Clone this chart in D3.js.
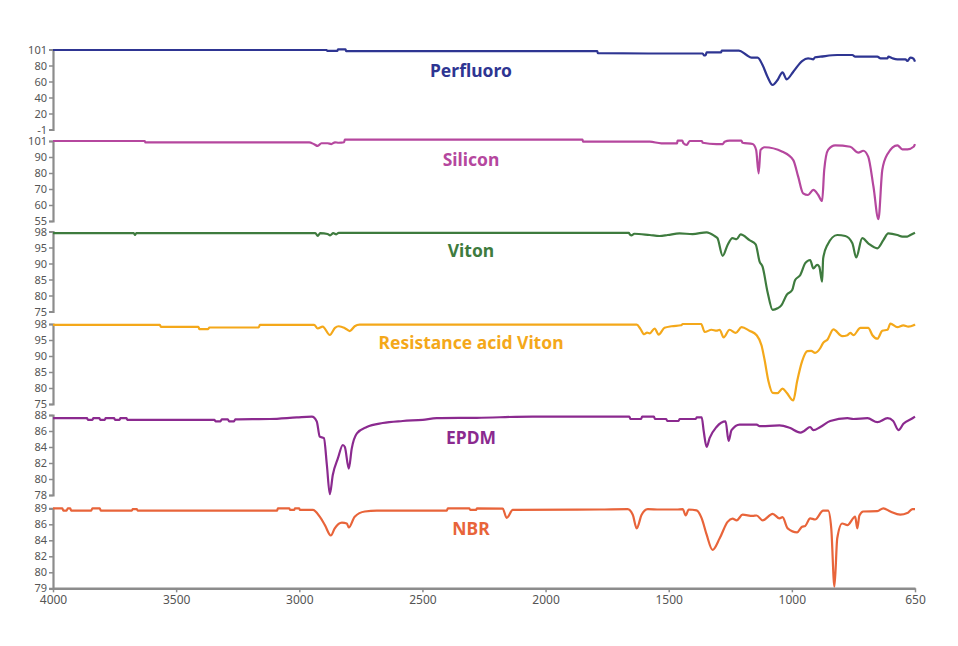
<!DOCTYPE html>
<html><head><meta charset="utf-8">
<script src="https://cdn.jsdelivr.net/npm/d3@7/dist/d3.min.js"></script>
<style>
body{margin:0;background:#fff;}
text{font-family:"Noto Sans","Open Sans",sans-serif;}
</style>
</head><body>
<svg id="chart" width="958" height="646"></svg>
<script>
// ---------- DATA ----------
const xTicks = [4000, 3500, 3000, 2500, 2000, 1500, 1000, 650];
const seriesNames = ["Perfluoro", "Silicon", "Viton", "Resistance acid Viton", "EPDM", "NBR"];
const seriesColors = ["#2e3592", "#b5479e", "#3e7b3e", "#f4a81a", "#8b2a8f", "#e8643a"];
const yDomains = [[0, 100], [50, 100], [75, 100], [75, 100], [78, 88], [78, 88]];
const yTickLabels = [
  ["-1", "20", "40", "60", "80", "101"],
  ["55", "60", "70", "80", "90", "101"],
  ["75", "80", "85", "90", "95", "98"],
  ["75", "80", "85", "90", "95", "98"],
  ["78", "80", "82", "84", "86", "88"],
  ["79", "80", "82", "84", "86", "89"]
];

const perfluoro = [[4000,99.4],[2889,99.4],[2887,98.3],[2845,98.3],[2843,100.2],[2812,100.2],[2810,98],[1790,98],[1788,95.5],[1577,95],[1362,95],[1356,92.5],[1350,92.8],[1346,96.5],[1287,96.5],[1285,98.5],[1215,98.5],[1184,93.1],[1164,89.75],[1139,89.75],[1119,80.6],[1099,66],[1078,55.6],[1058,61.9],[1038,71.5],[1021,62.75],[996,72.25],[971,85.6],[954,89],[939,87.75],[934,90.25],[919,91],[871,93.1],[828,93.1],[820,91],[757,91],[748,89],[728,89],[726,91],[714,89],[700,87.75],[677,87.75],[672,85.6],[663,89.75],[654,88.5],[650,84.75]];

const silicon = [[4000,100],[3627,100],[3625,99.1],[2960,99.1],[2940,98],[2925,96.9],[2910,98.6],[2885,98.6],[2870,98.1],[2855,99.2],[2840,98.9],[2818,99.2],[2815,100.9],[1850,100.9],[1848,99.6],[1577,99.56],[1530,98.56],[1466,98.56],[1464,100.2],[1445,100.2],[1440,98.56],[1427,97.5],[1415,100],[1365,100],[1362,98.9],[1306,98.1],[1280,98.1],[1273,99.56],[1253,100.2],[1205,100.2],[1200,98.9],[1159,98.1],[1145,94.4],[1135,79.8],[1127,94.4],[1111,96.1],[1038,93.3],[996,88.1],[982,77.7],[968,67.3],[954,66.25],[939,69.4],[925,66.25],[914,62.5],[908,81.9],[897,94.4],[877,97.3],[834,96.4],[811,92.7],[797,93.9],[783,90.2],[768,71.4],[754,51.1],[743,81.9],[728,91.9],[700,97.3],[686,94.8],[671,94.8],[654,96.4],[650,98.1]];

const viton = [[4000,99.5],[3672,99.5],[3667,98.9],[3662,99.5],[2935,99.5],[2925,98.6],[2915,99.5],[2885,99.2],[2875,98.8],[2862,99.5],[2850,99.1],[2840,99.6],[1662,99.6],[1658,99.1],[1650,98.8],[1640,99.3],[1577,98.9],[1537,98.6],[1504,98.9],[1456,99.4],[1403,99.2],[1346,99.75],[1314,98.6],[1302,97.9],[1281,92.4],[1261,95.8],[1241,97.9],[1224,97.6],[1208,99.1],[1172,97.3],[1147,96],[1131,90.6],[1119,89],[1099,81.2],[1078,75.5],[1058,76],[1042,77],[1021,80.2],[999,81.7],[991,84.8],[976,86.4],[962,90.1],[948,91.1],[939,88.5],[928,89.6],[922,89],[914,84.3],[911,91.6],[899,95.8],[871,98.9],[848,98.6],[828,96.3],[817,91.9],[800,97.9],[783,96.3],[757,94.75],[740,97.3],[726,99.4],[700,98.9],[686,98.4],[672,98.4],[663,98.9],[650,99.6]];

const acidViton = [[4000,99.7],[3566,99.7],[3562,99.1],[3410,99.1],[3405,98.4],[3370,98.4],[3365,98.9],[3165,98.9],[3160,99.7],[2940,99.7],[2925,98.6],[2905,99.2],[2876,96.6],[2855,98.8],[2840,99.3],[2815,98.7],[2795,97.8],[2775,99.3],[2755,99.8],[1630,99.8],[1615,98.5],[1600,96.8],[1588,97.3],[1577,97.1],[1557,98.6],[1541,96.7],[1517,98.8],[1488,99.3],[1450,99.6],[1443,100],[1368,100],[1354,97.5],[1326,98.2],[1306,97.9],[1293,98.2],[1277,95.8],[1253,98.2],[1228,97.2],[1204,99],[1172,97.9],[1143,96.5],[1123,93.3],[1111,88.9],[1095,82.1],[1078,78.5],[1058,78.4],[1038,79.8],[1021,78.5],[996,76.1],[985,82.1],[971,88.3],[956,91.5],[945,91.6],[934,91],[919,92.5],[911,94.1],[899,95.1],[882,98.3],[857,96.2],[842,96.5],[834,97.2],[825,96.5],[805,98.8],[783,98.8],[771,96.5],[757,95.4],[743,97.9],[728,98.2],[720,100.1],[700,99],[683,99.6],[669,99.2],[654,99.6],[650,99.9]];

const epdm = [[4000,87.6],[3862,87.6],[3858,87.4],[3840,87.4],[3836,87.6],[3812,87.6],[3808,87.4],[3790,87.4],[3786,87.6],[3752,87.6],[3748,87.4],[3730,87.4],[3726,87.6],[3702,87.6],[3698,87.4],[3345,87.4],[3340,87.2],[3320,87.2],[3315,87.45],[3290,87.45],[3285,87.2],[3265,87.2],[3260,87.45],[3120,87.5],[3010,87.7],[2949,87.8],[2929,87.2],[2917,85.3],[2900,85.1],[2888,81.75],[2876,78.1],[2864,80.5],[2843,82.6],[2823,84.25],[2815,84],[2799,81.3],[2787,83.8],[2766,85.7],[2726,86.5],[2661,87],[2580,87.25],[2499,87.4],[2442,87.6],[2279,87.65],[2052,87.8],[1660,87.8],[1655,87.5],[1612,87.5],[1608,87.8],[1560,87.8],[1556,87.5],[1510,87.5],[1506,87.25],[1460,87.25],[1456,87.5],[1390,87.5],[1386,87.7],[1366,87.7],[1358,86],[1346,84],[1334,85.1],[1306,86.5],[1269,87.2],[1257,84.75],[1245,86.1],[1212,86.8],[1143,86.8],[1131,86.6],[1050,86.7],[1009,86.4],[976,85.8],[965,86],[948,86.5],[939,86.1],[919,86.5],[891,87.25],[842,87.6],[825,87.5],[785,87.6],[757,87.1],[728,87.6],[712,87.25],[697,86.1],[683,86.9],[657,87.6],[650,87.8]];

const nbr = [[4000,88],[3962,88],[3958,87.7],[3945,87.7],[3940,88],[3930,88],[3926,87.7],[3845,87.7],[3840,88],[3810,88],[3806,87.7],[3680,87.7],[3676,87.9],[3660,87.9],[3656,87.7],[3090,87.7],[3087,88],[3040,88],[3038,87.8],[3020,87.8],[3018,88],[3000,88],[2998,87.8],[2945,87.8],[2917,86.95],[2896,85.9],[2872,84.6],[2856,85.5],[2827,86.2],[2807,86.1],[2799,85.6],[2775,86.95],[2734,87.6],[2685,87.7],[2401,87.7],[2397,88],[2310,88],[2306,87.8],[2282,87.8],[2279,88],[2174,87.95],[2158,86.8],[2133,87.8],[1780,87.85],[1667,87.9],[1646,87.2],[1630,85.5],[1610,87.2],[1585,87.9],[1537,87.85],[1468,87.85],[1443,87.9],[1431,87.1],[1419,87.85],[1387,87.75],[1366,86.75],[1346,84.7],[1322,82.8],[1293,84.25],[1261,86.3],[1241,86.7],[1224,86.5],[1200,87.2],[1159,87.05],[1143,87.1],[1119,86.5],[1078,87.3],[1050,86.75],[1038,86.9],[1017,85.5],[985,85],[971,85.7],[962,85.8],[948,86.75],[934,86.6],[911,87.7],[897,87.7],[888,85.5],[879,78.2],[871,84.25],[857,86.1],[842,85.9],[820,86.95],[814,85.5],[808,87.1],[797,87.6],[757,87.65],[740,88],[720,87.6],[692,87.2],[672,87.4],[657,87.9],[650,87.9]];

const seriesData = [perfluoro, silicon, viton, acidViton, epdm, nbr];

// ---------- LAYOUT ----------
const svg = d3.select("#chart");
svg.append("rect").attr("width", 958).attr("height", 646).attr("fill", "#ffffff");
const left = 53, right = 915;
const panelTops = [49.5, 141, 231.5, 324, 415, 508.3];
const titleDy = [23, 20.5, 21, 20.5, 24.5, 22];
const panelH = 80;
const axisColor = "#8c8c8c";
const labelColor = "#555555";

// x scale: evenly spaced tick labels (1000 -> 650 occupies one interval)
const x = d3.scaleLinear()
  .domain([4000, 1000, 650])
  .range([left, left + (right - left) * 6 / 7, right]);

const line = (y) => d3.line()
  .x(d => x(d[0]))
  .y(d => y(d[1]))
  .curve(d3.curveMonotoneX);

seriesData.forEach((data, i) => {
  const top = panelTops[i];
  const dom = yDomains[i];
  const y = d3.scaleLinear().domain(dom).range([top + panelH, top]);
  const tv = d3.range(6).map(k => dom[0] + k * (dom[1] - dom[0]) / 5);
  const labels = yTickLabels[i];

  const g = svg.append("g").attr("transform", `translate(${left},0)`);
  g.call(d3.axisLeft(y).tickValues(tv).tickSize(4).tickSizeOuter(4).tickPadding(2)
      .tickFormat((d, k) => labels[k]));
  g.select(".domain").attr("stroke", axisColor).attr("stroke-width", 2.2);
  g.selectAll(".tick line").attr("stroke", axisColor).attr("stroke-width", 1.5);
  g.selectAll(".tick text").attr("fill", labelColor).attr("font-size", 11)
    .style("font-family", '"Noto Sans", sans-serif');

  svg.append("path")
    .datum(data)
    .attr("fill", "none")
    .attr("stroke", seriesColors[i])
    .attr("stroke-width", 2.2)
    .attr("stroke-linejoin", "round")
    .attr("d", line(y));

  svg.append("text")
    .attr("x", 471)
    .attr("y", top + titleDy[i])
    .attr("text-anchor", "middle")
    .attr("dominant-baseline", "middle")
    .attr("fill", seriesColors[i])
    .attr("font-size", 17.5)
    .attr("font-weight", "bold")
    .text(seriesNames[i]);
});

// bottom x axis
const xa = svg.append("g").attr("transform", `translate(0,${panelTops[5] + panelH})`);
xa.call(d3.axisBottom(x).tickValues(xTicks).tickSize(4).tickSizeOuter(0).tickPadding(3)
  .tickFormat(d3.format("d")));
xa.select(".domain").attr("stroke", axisColor).attr("stroke-width", 2.5);
xa.selectAll(".tick line").attr("stroke", axisColor).attr("stroke-width", 1.5);
xa.selectAll(".tick text").attr("fill", labelColor).attr("font-size", 12)
  .style("font-family", '"Noto Sans", sans-serif');
</script>
</body></html>
